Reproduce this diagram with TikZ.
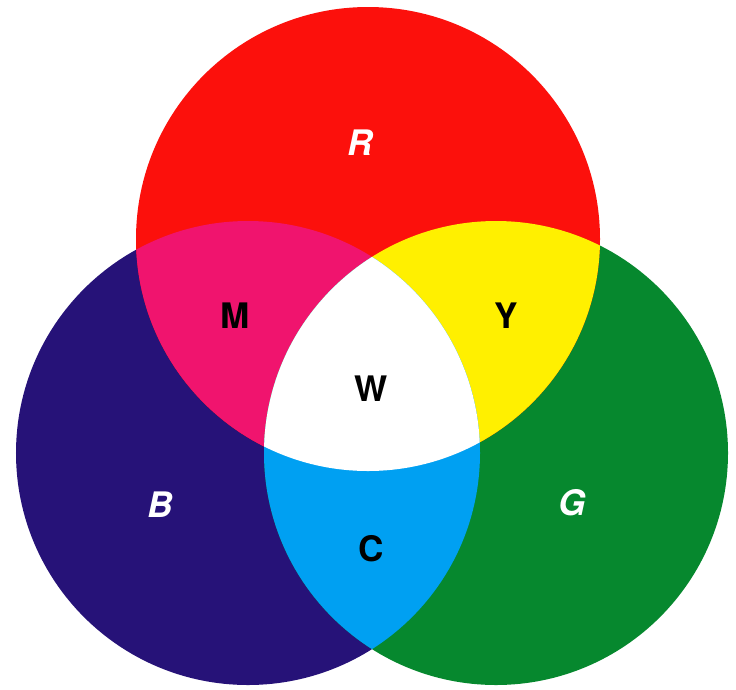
\documentclass[tikz,border=0pt]{standalone}
\usepackage{fontspec}
\setmainfont{TeX Gyre Heros}
\usepackage{tikz}
\usepackage{xcolor}
\definecolor{redlight}{RGB}{252,16,12}
\definecolor{bluelight}{RGB}{38,18,120}
\definecolor{greenlight}{RGB}{6,136,46}
\definecolor{magentamix}{RGB}{240,20,110}
\definecolor{yellowmix}{RGB}{255,240,0}
\definecolor{cyanmix}{RGB}{0,160,242}

\begin{document}
\begin{tikzpicture}[
    disc/.style={radius=2.32},  % every light has the same size
    primary/.style={font=\fontsize{10}{11}\selectfont\bfseries\itshape, text=white},
    mixed/.style={font=\fontsize{10}{11}\selectfont\bfseries, text=black}
]
\useasboundingbox[fill=white] (0,0) rectangle (7.36,6.89);

% centres of the three lights
\coordinate (red) at (3.68,4.50);
\coordinate (blue) at (2.48,2.36);
\coordinate (green) at (4.96,2.36);

\fill[bluelight] (blue) circle [disc];
\fill[greenlight] (green) circle [disc];
\fill[redlight] (red) circle [disc];

% overlaps with red
\begin{scope}
    \clip (red) circle [disc];
    \fill[magentamix] (blue) circle [disc];
    \fill[yellowmix] (green) circle [disc];
\end{scope}

% blue and green, then all three
\begin{scope}
    \clip (blue) circle [disc];
    \fill[cyanmix] (green) circle [disc];
    \clip (green) circle [disc];
    \fill[white] (red) circle [disc];
\end{scope}

\node[primary] (labelR) at (3.60,5.46) {R};
\node[primary] (labelB) at (1.60,1.84) {B};
\node[primary] (labelG) at (5.72,1.86) {G};
\node[mixed] (labelM) at (2.35,3.73) {M};
\node[mixed] (labelY) at (5.06,3.73) {Y};
\node[mixed] (labelW) at (3.71,3.00) {W};
\node[mixed] (labelC) at (3.71,1.40) {C};
\end{tikzpicture}
\end{document}
